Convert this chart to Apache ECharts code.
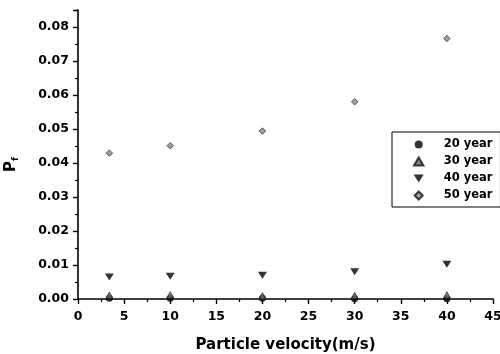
<!DOCTYPE html>
<html>
<head>
<meta charset="utf-8">
<script src="https://cdn.jsdelivr.net/npm/echarts@6/dist/echarts.min.js"></script>
<style>
  html, body { margin: 0; padding: 0; background: #fff; }
  #chart { width: 500px; height: 354px; }
</style>
</head>
<body>
<div id="chart"></div>
<script>
// Failure probability vs. particle velocity for several service ages
const velocity = [3.4, 10, 20, 30, 40];
const seriesNames = ['20 year', '30 year', '40 year', '50 year'];
const p20 = [0.0002, 0.0002, 0.0002, 0.0001, 0.0001];
const p30 = [0.0011, 0.0012, 0.0009, 0.0010, 0.0012];
const p40 = [0.0065, 0.0067, 0.0070, 0.0080, 0.0102];
const p50 = [0.0429, 0.0451, 0.0494, 0.0580, 0.0766];

const FONT = 'DejaVu Sans';
const pair = ys => velocity.map((v, i) => [v, ys[i]]);

// marker outlines (paths keep their aspect in the legend too)
const TRI_UP = 'path://M5,0 L10,8.5 L0,8.5 Z';
const TRI_DOWN = 'path://M0,0 L10,0 L5,8 Z';
const DIAMOND = 'path://M5,0 L10,5 L5,10 L0,5 Z';

const chart = echarts.init(document.getElementById('chart'), null, { renderer: 'canvas' });

const base = { type: 'scatter', animation: false };

chart.setOption({
  backgroundColor: '#ffffff',
  animation: false,
  grid: { left: 78, right: 7, top: 10, bottom: 55, outerBoundsMode: 'none', containLabel: false },
  xAxis: {
    type: 'value',
    min: 0, max: 45, interval: 5,
    name: 'Particle velocity(m/s)',
    nameLocation: 'middle',
    nameGap: 39,
    nameTextStyle: { fontFamily: FONT, fontWeight: 'bold', fontSize: 15, color: '#000' },
    axisLine: { lineStyle: { color: '#000', width: 1.6 } },
    axisTick: { inside: false, length: 5, lineStyle: { color: '#000', width: 1.4 } },
    minorTick: { show: true, splitNumber: 2, length: 3, lineStyle: { color: '#000', width: 1.2 } },
    splitLine: { show: false },
    axisLabel: { margin: 11, fontFamily: FONT, fontWeight: 'bold', fontSize: 12.5, color: '#000' }
  },
  yAxis: {
    type: 'value',
    min: 0, max: 0.085, interval: 0.01,
    name: '{p|P}{f|f}',
    nameLocation: 'middle',
    nameRotate: 90,
    nameGap: 58,
    nameTextStyle: {
      padding: [0, 20, 0, 0],
      rich: {
        p: { fontFamily: FONT, fontWeight: 'bold', fontSize: 15, lineHeight: 18, color: '#000' },
        f: { fontFamily: FONT, fontWeight: 'bold', fontSize: 9, lineHeight: 9, verticalAlign: 'bottom', color: '#000' }
      }
    },
    axisLine: { lineStyle: { color: '#000', width: 1.6 } },
    axisTick: { inside: false, length: 5, lineStyle: { color: '#000', width: 1.4 } },
    minorTick: { show: true, splitNumber: 2, length: 3, lineStyle: { color: '#000', width: 1.2 } },
    splitLine: { show: false },
    axisLabel: {
      margin: 9, fontFamily: FONT, fontWeight: 'bold', fontSize: 12.5, color: '#000',
      showMaxLabel: false,
      formatter: v => v.toFixed(2)
    }
  },
  legend: {
    orient: 'vertical',
    left: 392, top: 132,
    padding: [4, 8, 3, 21],
    itemWidth: 40, itemHeight: 8, itemGap: 0,
    symbolKeepAspect: true,
    borderColor: '#000', borderWidth: 1,
    backgroundColor: '#fff',
    textStyle: { fontFamily: FONT, fontWeight: 'bold', fontSize: 11.5, lineHeight: 17, color: '#000' },
    data: seriesNames
  },
  series: [
    Object.assign({}, base, {
      name: seriesNames[0], data: pair(p20),
      symbol: 'circle', symbolSize: 7,
      itemStyle: { color: '#000' }
    }),
    Object.assign({}, base, {
      name: seriesNames[1], data: pair(p30),
      symbol: TRI_UP, symbolSize: [7, 6.5],
      itemStyle: { color: '#666', borderColor: '#111', borderWidth: 0.8 }
    }),
    Object.assign({}, base, {
      name: seriesNames[2], data: pair(p40),
      symbol: TRI_DOWN, symbolSize: [9, 7],
      itemStyle: { color: '#000' }
    }),
    Object.assign({}, base, {
      name: seriesNames[3], data: pair(p50),
      symbol: DIAMOND, symbolSize: [6.5, 6.5],
      itemStyle: { color: '#888', borderColor: '#111', borderWidth: 0.8 }
    })
  ]
});
</script>
</body>
</html>
